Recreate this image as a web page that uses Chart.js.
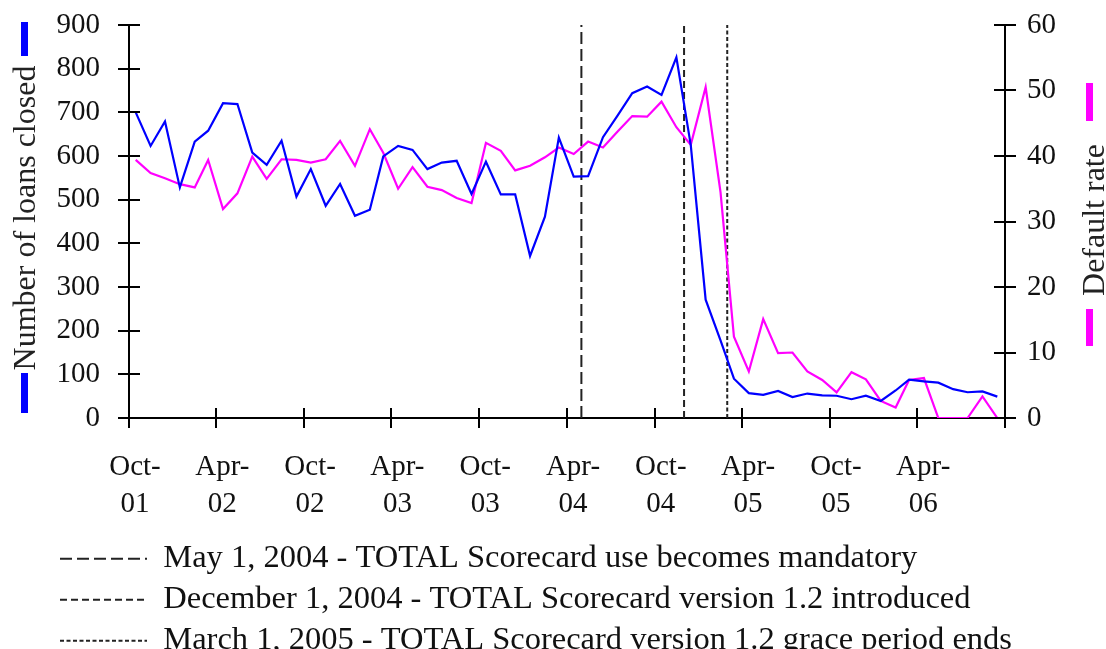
<!DOCTYPE html>
<html><head><meta charset="utf-8">
<script src="https://cdn.jsdelivr.net/npm/chart.js@4.4.1/dist/chart.umd.min.js"></script>
<style>html,body{margin:0;padding:0;background:#fff}#wrap{width:1106px;height:649px}</style>
</head><body><div id="wrap"><canvas id="c" width="1106" height="649"></canvas></div>
<script>
// ---- data ----
const months = [
 '2001-10','2001-11','2001-12',
 '2002-01','2002-02','2002-03','2002-04','2002-05','2002-06','2002-07','2002-08','2002-09','2002-10','2002-11','2002-12',
 '2003-01','2003-02','2003-03','2003-04','2003-05','2003-06','2003-07','2003-08','2003-09','2003-10','2003-11','2003-12',
 '2004-01','2004-02','2004-03','2004-04','2004-05','2004-06','2004-07','2004-08','2004-09','2004-10','2004-11','2004-12',
 '2005-01','2005-02','2005-03','2005-04','2005-05','2005-06','2005-07','2005-08','2005-09','2005-10','2005-11','2005-12',
 '2006-01','2006-02','2006-03','2006-04','2006-05','2006-06','2006-07','2006-08','2006-09'
];
const loansClosed = [
 700,623,679,
 528,633,658,721,719,608,580,635,507,570,486,536,
 463,477,599,623,614,570,585,589,513,587,512,512,
 371,461,642,553,554,643,692,744,759,740,826,625,
 271,178,90,57,53,62,48,56,52,51,43,51,
 39,63,88,84,81,66,59,61,49
];
const defaultRate = [
 39.4,37.4,36.6,
 35.7,35.2,39.4,31.9,34.3,39.9,36.5,39.5,39.4,39.0,39.5,42.3,
 38.5,44.1,40.5,35.0,38.3,35.3,34.8,33.6,32.8,42.0,40.8,37.8,
 38.5,39.8,41.3,40.3,42.2,41.3,43.7,46.1,46.0,48.3,44.4,41.7,
 50.5,34.5,12.4,7.1,15.1,9.9,10.0,7.1,5.8,3.9,7.0,5.9,
 2.6,1.6,5.8,6.1,0,0,0,3.3,0
];
const tickLabels = ['Oct-01','Apr-02','Oct-02','Apr-03','Oct-03','Apr-04','Oct-04','Apr-05','Oct-05','Apr-06'];
const axisEndLabel = 'Oct-06';
const eventDates = ['2004-05-01','2004-12-01','2005-03-01'];
const eventLabels = [
 'May 1, 2004 - TOTAL Scorecard use becomes mandatory',
 'December 1, 2004 - TOTAL Scorecard version 1.2 introduced',
 'March 1, 2005 - TOTAL Scorecard version 1.2 grace period ends'
];
const eventDashes = [[12,5],[7,4],[4,2.5]];
const leftTitle = 'Number of loans closed';
const rightTitle = 'Default rate';

// ---- helpers ----
const MON = {Jan:0,Feb:1,Mar:2,Apr:3,May:4,Jun:5,Jul:6,Aug:7,Sep:8,Oct:9,Nov:10,Dec:11};
const ORIGIN = Date.UTC(2001,9,1);
const dayOf = (y,m,d) => (Date.UTC(y,m,d) - ORIGIN) / 864e5;
const monthX = months.map(s => { const [y,m] = s.split('-').map(Number); return dayOf(y, m-1, 15); });
const labelDay = s => { const [mm,yy] = s.split('-'); return dayOf(2000 + Number(yy), MON[mm], 1); };
const tickDays = tickLabels.map(labelDay);
const xMax = labelDay(axisEndLabel);
const eventX = eventDates.map(s => { const [y,m,d] = s.split('-').map(Number); return dayOf(y, m-1, d); });

const SERIF = "'Liberation Serif','Times New Roman',serif";
const TXT = '#111';
const HIDE = 'rgba(0,0,0,0)';

const extras = {
  id: 'extras',
  beforeDraw(chart) {
    chart.legend.left = 51.5;
    chart.legend.top = 534;
  },
  afterDraw(chart) {
    const {ctx, chartArea: a, scales: {x, y, y1}} = chart;
    ctx.save();
    ctx.strokeStyle = '#000'; ctx.lineWidth = 2;
    ctx.beginPath();
    y.ticks.forEach(t => { const p = Math.round(y.getPixelForValue(t.value)); ctx.moveTo(a.left - 11, p); ctx.lineTo(a.left + 11, p); });
    y1.ticks.forEach(t => { const p = Math.round(y1.getPixelForValue(t.value)); ctx.moveTo(a.right - 11, p); ctx.lineTo(a.right + 11, p); });
    x.ticks.forEach(t => { const p = Math.round(x.getPixelForValue(t.value)); ctx.moveTo(p, a.bottom + 10); ctx.lineTo(p, a.bottom - 10); });
    ctx.stroke();
    // axis titles
    ctx.fillStyle = '#222';
    ctx.font = '32px ' + SERIF;
    ctx.textAlign = 'center'; ctx.textBaseline = 'alphabetic';
    ctx.save(); ctx.translate(35, 218); ctx.rotate(-Math.PI/2); ctx.fillText(leftTitle, 0, 0); ctx.restore();
    ctx.save(); ctx.translate(1104, 220); ctx.rotate(-Math.PI/2); ctx.fillText(rightTitle, 0, 0); ctx.restore();
    // series keys beside titles
    ctx.fillStyle = '#0000ff';
    ctx.fillRect(21, 22, 7, 34); ctx.fillRect(21, 373, 7, 40);
    ctx.fillStyle = '#ff00ff';
    ctx.fillRect(1086, 83, 7, 38); ctx.fillRect(1086, 309, 7, 37);
    ctx.restore();
  }
};

const datasets = [
  { label: 'Number of loans closed', data: loansClosed.map((v,i) => ({x: monthX[i], y: v})), yAxisID: 'y',
    borderColor: '#0000ff', borderWidth: 2.2, pointRadius: 0, tension: 0 },
  { label: 'Default rate', data: defaultRate.map((v,i) => ({x: monthX[i], y: v})), yAxisID: 'y1',
    borderColor: '#ff00ff', borderWidth: 2.2, pointRadius: 0, tension: 0 },
  ...eventX.map((d,i) => ({ label: eventLabels[i], data: [{x: d, y: 0}, {x: d, y: 900}], yAxisID: 'y',
    borderColor: '#222', borderWidth: 2, borderDash: eventDashes[i], pointRadius: 0 }))
];

new Chart(document.getElementById('c'), {
  type: 'line',
  data: { datasets },
  options: {
    responsive: false, animation: false, devicePixelRatio: 1,
    layout: { padding: { top: 25, left: 0, right: 0, bottom: 0 } },
    plugins: {
      tooltip: { enabled: false },
      legend: {
        position: 'bottom', align: 'start',
        labels: {
          filter: item => item.datasetIndex >= 2,
          generateLabels: chart => Chart.defaults.plugins.legend.labels.generateLabels(chart).map(it => {
            const ds = chart.data.datasets[it.datasetIndex];
            return Object.assign(it, { lineDash: ds.borderDash || [], lineWidth: ds.borderWidth, strokeStyle: ds.borderColor, pointStyle: 'line' });
          }),
          usePointStyle: true, pointStyle: 'line', pointStyleWidth: 87, boxHeight: 10,
          padding: 8.5, color: TXT, font: { family: SERIF, size: 32.5 }
        }
      }
    },
    scales: {
      x: {
        type: 'linear', min: 0, max: xMax,
        afterBuildTicks: s => { s.ticks = tickDays.concat([xMax]).map(v => ({value: v})); },
        afterFit: s => { s.height = 98; },
        grid: { drawOnChartArea: false, drawTicks: true, tickLength: 31, color: HIDE, tickColor: HIDE },
        border: { display: true, color: '#000', width: 2 },
        ticks: {
          autoSkip: false, maxRotation: 0, minRotation: 0, padding: 0, labelOffset: 6, color: TXT,
          font: { family: SERIF, size: 29, lineHeight: 1.28 },
          callback: v => { const i = tickDays.indexOf(v); if (i < 0) return ''; const [a,b] = tickLabels[i].split('-'); return [a + '-', b]; }
        }
      },
      y: {
        position: 'left', min: 0, max: 900,
        afterFit: s => { s.width = 129; },
        grid: { drawOnChartArea: false, drawTicks: true, tickLength: 29, color: HIDE, tickColor: HIDE },
        border: { display: true, color: '#000', width: 2 },
        ticks: { stepSize: 100, padding: 0, color: TXT, font: { family: SERIF, size: 29 } }
      },
      y1: {
        position: 'right', min: 0, max: 60,
        afterFit: s => { s.width = 101; },
        grid: { drawOnChartArea: false, drawTicks: true, tickLength: 22, color: HIDE, tickColor: HIDE },
        border: { display: true, color: '#000', width: 2 },
        ticks: { stepSize: 10, padding: 0, color: TXT, font: { family: SERIF, size: 29 } }
      }
    }
  },
  plugins: [extras]
});
</script></body></html>
